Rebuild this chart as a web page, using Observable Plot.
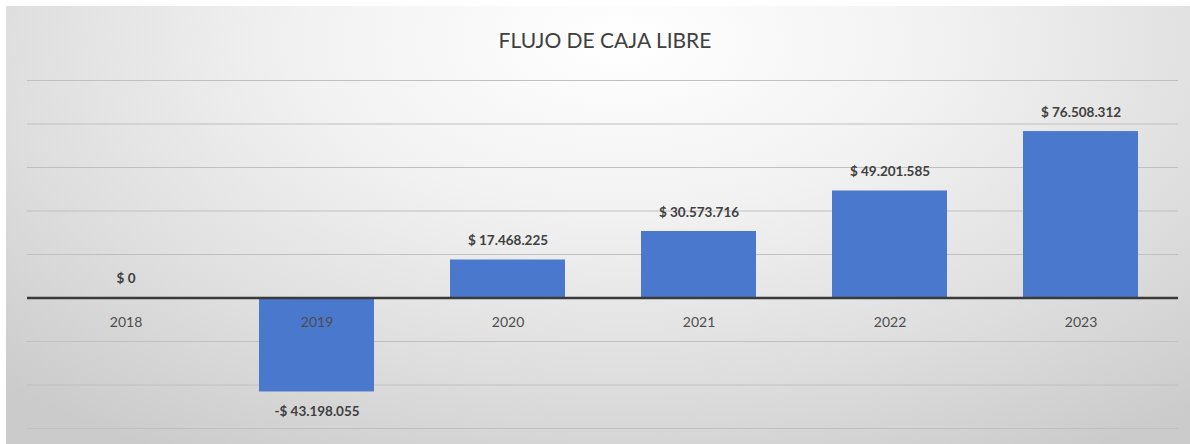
<!DOCTYPE html>
<html>
<head>
<meta charset="utf-8">
<script src="https://cdn.jsdelivr.net/npm/d3@7"></script>
<script src="https://cdn.jsdelivr.net/npm/@observablehq/plot@0.6"></script>
<style>
  html, body { margin: 0; padding: 0; background: #fff; }
  #wrap { position: relative; width: 1190px; height: 444px; overflow: hidden; }
  #bg { position: absolute; left: 6px; top: 6px; width: 1184px; height: 438px;
        background: radial-gradient(ellipse 75% 110% at 52% 8%, #ffffff 0%, #f2f2f2 35%, #dedede 70%, #cbcbcb 100%); }
  #title { position: absolute; left: 0; top: 27px; width: 1210px; text-align: center;
           font-family: Lato, sans-serif; font-size: 21px; color: #404040; }
  #chart { position: absolute; left: 0; top: 0; }
</style>
</head>
<body>
<div id="wrap">
  <div id="bg"></div>
  <div id="title">FLUJO DE CAJA LIBRE</div>
  <div id="chart"></div>
</div>
<script>
const years = ["2018", "2019", "2020", "2021", "2022", "2023"];
const values = [0, -43198055, 17468225, 30573716, 49201585, 76508312];
const gridTicks = [-60e6, -40e6, -20e6, 20e6, 40e6, 60e6, 80e6, 100e6];

const data = years.map((y, i) => ({year: y, value: values[i]}));
const num = d3.format(",.0f");
const fmt = v => (v < 0 ? "-$ " : "$ ") + num(Math.abs(v)).replace(/,/g, ".");
const pos = data.filter(d => d.value >= 0);
const neg = data.filter(d => d.value < 0);

const chart = Plot.plot({
  width: 1190,
  height: 444,
  marginLeft: 27,
  marginRight: 12,
  marginTop: 80,
  marginBottom: 16,
  style: {background: "transparent", fontFamily: "Lato, sans-serif"},
  x: {domain: years, paddingInner: 0.4, paddingOuter: 0.2, axis: null},
  y: {domain: [-60e6, 100e6], axis: null},
  marks: [
    Plot.ruleY(gridTicks, {stroke: "#c0c0c0", strokeWidth: 1.2}),
    Plot.barY(data, {x: "year", y: "value", fill: "#4a78cd"}),
    Plot.ruleY([0], {stroke: "#3a3a3a", strokeWidth: 2.5}),
    Plot.text(data, {x: "year", y: 0, dy: 25, text: "year", fill: "#4d4d4d", fontSize: 14}),
    Plot.text(pos, {x: "year", y: "value", text: d => fmt(d.value),
      dy: -19, fill: "#404040", fontSize: 13.5, fontWeight: "bold"}),
    Plot.text(neg, {x: "year", y: "value", text: d => fmt(d.value),
      dy: 20, fill: "#404040", fontSize: 13.5, fontWeight: "bold"})
  ]
});
document.getElementById("chart").appendChild(chart);
</script>
</body>
</html>
